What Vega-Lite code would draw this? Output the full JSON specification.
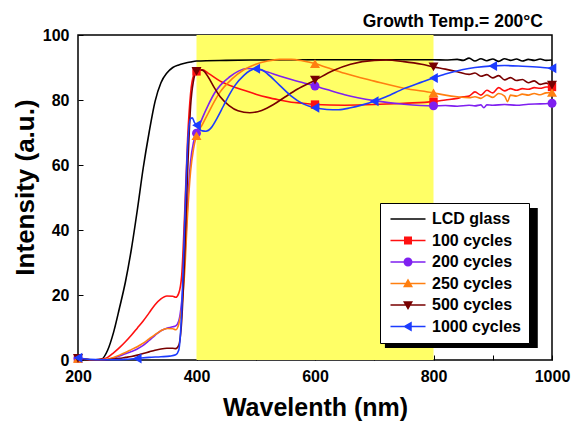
{
 "$schema": "https://vega.github.io/schema/vega-lite/v6.json",
 "width": 474, "height": 325,
 "autosize": "none",
 "padding": {"left": 78, "top": 35, "right": 24, "bottom": 64},
 "title": {"text": "Growth Temp.= 200°C", "anchor": "end", "frame": "group", "font": "Liberation Sans", "fontSize": 17.5, "fontWeight": "bold", "color": "black", "offset": -3, "dx": -9},
 "config": {
  "font": "Liberation Sans",
  "view": {"stroke": "black", "strokeWidth": 1.5},
  "axis": {"domain": false, "grid": false, "tickColor": "black", "tickSize": -5, "tickWidth": 1, "labelFontSize": 16, "labelFontWeight": "bold", "labelColor": "black", "labelFont": "Liberation Sans", "titleFont": "Liberation Sans", "titleFontSize": 25, "titleFontWeight": "bold", "titleColor": "black", "labelFlush": false, "labelOverlap": false, "format": "d"},
  "axisX": {"labelPadding": 13, "titleX": 237, "titleY": 55, "titleBaseline": "alphabetic"},
  "axisY": {"labelPadding": 14, "titleX": -45, "titleY": 152, "titleBaseline": "alphabetic", "titleAlign": "center", "titleFontSize": 26}
 },
 "datasets": {
  "curves": [
   {"series":"LCD glass","wl":200,"v":0.3},{"series":"LCD glass","wl":210,"v":0.2},{"series":"LCD glass","wl":220,"v":0.1},{"series":"LCD glass","wl":230,"v":0.1},{"series":"LCD glass","wl":240,"v":0.3},{"series":"LCD glass","wl":250,"v":3},{"series":"LCD glass","wl":260,"v":8.5},{"series":"LCD glass","wl":270,"v":16},{"series":"LCD glass","wl":280,"v":24},{"series":"LCD glass","wl":290,"v":34},{"series":"LCD glass","wl":300,"v":46},{"series":"LCD glass","wl":310,"v":59},{"series":"LCD glass","wl":320,"v":70},{"series":"LCD glass","wl":330,"v":79.5},{"series":"LCD glass","wl":340,"v":85.3},{"series":"LCD glass","wl":350,"v":88.3},{"series":"LCD glass","wl":360,"v":90},{"series":"LCD glass","wl":370,"v":90.8},{"series":"LCD glass","wl":380,"v":91.3},{"series":"LCD glass","wl":390,"v":91.7},{"series":"LCD glass","wl":400,"v":92},{"series":"LCD glass","wl":450,"v":92.2},{"series":"LCD glass","wl":500,"v":92.3},{"series":"LCD glass","wl":600,"v":92.4},{"series":"LCD glass","wl":700,"v":92.4},{"series":"LCD glass","wl":800,"v":92.4},{"series":"LCD glass","wl":820,"v":92.3},{"series":"LCD glass","wl":840,"v":92.5},{"series":"LCD glass","wl":850,"v":92.2},{"series":"LCD glass","wl":860,"v":92.9},{"series":"LCD glass","wl":870,"v":92},{"series":"LCD glass","wl":880,"v":92.7},{"series":"LCD glass","wl":890,"v":92.1},{"series":"LCD glass","wl":900,"v":92.6},{"series":"LCD glass","wl":910,"v":91.9},{"series":"LCD glass","wl":920,"v":92.7},{"series":"LCD glass","wl":930,"v":92.2},{"series":"LCD glass","wl":940,"v":92.6},{"series":"LCD glass","wl":950,"v":92},{"series":"LCD glass","wl":960,"v":92.5},{"series":"LCD glass","wl":970,"v":92.2},{"series":"LCD glass","wl":980,"v":92.6},{"series":"LCD glass","wl":990,"v":92.2},{"series":"LCD glass","wl":1000,"v":92.3},

   {"series":"100 cycles","wl":200,"v":0.5},{"series":"100 cycles","wl":210,"v":0.3},{"series":"100 cycles","wl":220,"v":0.1},{"series":"100 cycles","wl":230,"v":0.1},{"series":"100 cycles","wl":240,"v":0.2},{"series":"100 cycles","wl":250,"v":0.8},{"series":"100 cycles","wl":260,"v":2.2},{"series":"100 cycles","wl":270,"v":3.8},{"series":"100 cycles","wl":280,"v":5.6},{"series":"100 cycles","wl":290,"v":7.6},{"series":"100 cycles","wl":300,"v":9.8},{"series":"100 cycles","wl":310,"v":12},{"series":"100 cycles","wl":320,"v":14.5},{"series":"100 cycles","wl":330,"v":17},{"series":"100 cycles","wl":340,"v":18.8},{"series":"100 cycles","wl":350,"v":19.7},{"series":"100 cycles","wl":360,"v":19.6},{"series":"100 cycles","wl":365,"v":19.3},{"series":"100 cycles","wl":370,"v":20.5},{"series":"100 cycles","wl":375,"v":26},{"series":"100 cycles","wl":380,"v":45},{"series":"100 cycles","wl":385,"v":68},{"series":"100 cycles","wl":390,"v":82},{"series":"100 cycles","wl":395,"v":87.5},{"series":"100 cycles","wl":400,"v":88.8},{"series":"100 cycles","wl":410,"v":89.3},{"series":"100 cycles","wl":420,"v":88.2},{"series":"100 cycles","wl":440,"v":85.8},{"series":"100 cycles","wl":460,"v":84.2},{"series":"100 cycles","wl":480,"v":83},{"series":"100 cycles","wl":500,"v":81.8},{"series":"100 cycles","wl":520,"v":80.8},{"series":"100 cycles","wl":540,"v":80},{"series":"100 cycles","wl":560,"v":79.3},{"series":"100 cycles","wl":580,"v":79},{"series":"100 cycles","wl":600,"v":78.6},{"series":"100 cycles","wl":650,"v":78.4},{"series":"100 cycles","wl":700,"v":78.6},{"series":"100 cycles","wl":750,"v":79},{"series":"100 cycles","wl":800,"v":79.5},{"series":"100 cycles","wl":820,"v":80},{"series":"100 cycles","wl":840,"v":80.5},{"series":"100 cycles","wl":850,"v":81},{"series":"100 cycles","wl":860,"v":81.2},{"series":"100 cycles","wl":870,"v":82.5},{"series":"100 cycles","wl":880,"v":81.5},{"series":"100 cycles","wl":890,"v":83},{"series":"100 cycles","wl":900,"v":82.2},{"series":"100 cycles","wl":910,"v":83.8},{"series":"100 cycles","wl":920,"v":82.8},{"series":"100 cycles","wl":930,"v":83.5},{"series":"100 cycles","wl":940,"v":83},{"series":"100 cycles","wl":950,"v":83.5},{"series":"100 cycles","wl":960,"v":83.3},{"series":"100 cycles","wl":970,"v":83.8},{"series":"100 cycles","wl":980,"v":83.6},{"series":"100 cycles","wl":990,"v":84},{"series":"100 cycles","wl":1000,"v":84},

   {"series":"200 cycles","wl":200,"v":0.5},{"series":"200 cycles","wl":210,"v":0.3},{"series":"200 cycles","wl":220,"v":0.1},{"series":"200 cycles","wl":240,"v":0.1},{"series":"200 cycles","wl":250,"v":0.2},{"series":"200 cycles","wl":260,"v":0.6},{"series":"200 cycles","wl":270,"v":1.2},{"series":"200 cycles","wl":280,"v":1.9},{"series":"200 cycles","wl":290,"v":2.6},{"series":"200 cycles","wl":300,"v":3.4},{"series":"200 cycles","wl":310,"v":4.5},{"series":"200 cycles","wl":320,"v":6},{"series":"200 cycles","wl":330,"v":7.6},{"series":"200 cycles","wl":340,"v":9},{"series":"200 cycles","wl":350,"v":9.8},{"series":"200 cycles","wl":360,"v":10.2},{"series":"200 cycles","wl":365,"v":10.5},{"series":"200 cycles","wl":370,"v":12},{"series":"200 cycles","wl":375,"v":18},{"series":"200 cycles","wl":380,"v":30},{"series":"200 cycles","wl":385,"v":48},{"series":"200 cycles","wl":390,"v":61},{"series":"200 cycles","wl":395,"v":67},{"series":"200 cycles","wl":400,"v":69.8},{"series":"200 cycles","wl":410,"v":74.5},{"series":"200 cycles","wl":420,"v":78.5},{"series":"200 cycles","wl":430,"v":82},{"series":"200 cycles","wl":440,"v":84.5},{"series":"200 cycles","wl":455,"v":87},{"series":"200 cycles","wl":470,"v":88.8},{"series":"200 cycles","wl":485,"v":89.7},{"series":"200 cycles","wl":500,"v":89.6},{"series":"200 cycles","wl":520,"v":88.6},{"series":"200 cycles","wl":540,"v":87.4},{"series":"200 cycles","wl":560,"v":86.3},{"series":"200 cycles","wl":580,"v":85.3},{"series":"200 cycles","wl":600,"v":84.3},{"series":"200 cycles","wl":620,"v":83.2},{"series":"200 cycles","wl":650,"v":81.6},{"series":"200 cycles","wl":700,"v":79.8},{"series":"200 cycles","wl":750,"v":78.7},{"series":"200 cycles","wl":800,"v":78.2},{"series":"200 cycles","wl":820,"v":78.3},{"series":"200 cycles","wl":840,"v":78.1},{"series":"200 cycles","wl":860,"v":78.4},{"series":"200 cycles","wl":870,"v":78.2},{"series":"200 cycles","wl":880,"v":78.5},{"series":"200 cycles","wl":885,"v":77.6},{"series":"200 cycles","wl":890,"v":78.5},{"series":"200 cycles","wl":900,"v":78.4},{"series":"200 cycles","wl":920,"v":78.6},{"series":"200 cycles","wl":940,"v":78.4},{"series":"200 cycles","wl":960,"v":78.7},{"series":"200 cycles","wl":980,"v":78.8},{"series":"200 cycles","wl":1000,"v":79},

   {"series":"250 cycles","wl":200,"v":0.5},{"series":"250 cycles","wl":210,"v":0.3},{"series":"250 cycles","wl":220,"v":0.1},{"series":"250 cycles","wl":240,"v":0.1},{"series":"250 cycles","wl":250,"v":0.3},{"series":"250 cycles","wl":260,"v":0.8},{"series":"250 cycles","wl":270,"v":1.5},{"series":"250 cycles","wl":280,"v":2.3},{"series":"250 cycles","wl":290,"v":3.2},{"series":"250 cycles","wl":300,"v":4.1},{"series":"250 cycles","wl":310,"v":5.2},{"series":"250 cycles","wl":320,"v":6.5},{"series":"250 cycles","wl":330,"v":7.8},{"series":"250 cycles","wl":340,"v":9},{"series":"250 cycles","wl":350,"v":9.7},{"series":"250 cycles","wl":360,"v":9.6},{"series":"250 cycles","wl":365,"v":9.3},{"series":"250 cycles","wl":370,"v":11},{"series":"250 cycles","wl":375,"v":16},{"series":"250 cycles","wl":380,"v":27},{"series":"250 cycles","wl":385,"v":45},{"series":"250 cycles","wl":390,"v":58},{"series":"250 cycles","wl":395,"v":65},{"series":"250 cycles","wl":400,"v":69},{"series":"250 cycles","wl":410,"v":72.5},{"series":"250 cycles","wl":420,"v":76},{"series":"250 cycles","wl":430,"v":79.5},{"series":"250 cycles","wl":440,"v":82.5},{"series":"250 cycles","wl":460,"v":86.5},{"series":"250 cycles","wl":480,"v":89.3},{"series":"250 cycles","wl":500,"v":91},{"series":"250 cycles","wl":520,"v":92},{"series":"250 cycles","wl":540,"v":92.5},{"series":"250 cycles","wl":560,"v":92.5},{"series":"250 cycles","wl":580,"v":92},{"series":"250 cycles","wl":600,"v":91.2},{"series":"250 cycles","wl":620,"v":90},{"series":"250 cycles","wl":650,"v":88.2},{"series":"250 cycles","wl":700,"v":85.8},{"series":"250 cycles","wl":750,"v":83.6},{"series":"250 cycles","wl":800,"v":82.2},{"series":"250 cycles","wl":820,"v":81.5},{"series":"250 cycles","wl":840,"v":81},{"series":"250 cycles","wl":860,"v":80.7},{"series":"250 cycles","wl":870,"v":81},{"series":"250 cycles","wl":880,"v":80.5},{"series":"250 cycles","wl":890,"v":81.5},{"series":"250 cycles","wl":900,"v":80.8},{"series":"250 cycles","wl":910,"v":82},{"series":"250 cycles","wl":920,"v":81.2},{"series":"250 cycles","wl":925,"v":79.5},{"series":"250 cycles","wl":930,"v":81.5},{"series":"250 cycles","wl":940,"v":81.2},{"series":"250 cycles","wl":950,"v":81.8},{"series":"250 cycles","wl":960,"v":81.5},{"series":"250 cycles","wl":970,"v":82},{"series":"250 cycles","wl":980,"v":81.6},{"series":"250 cycles","wl":990,"v":82.2},{"series":"250 cycles","wl":1000,"v":82.3},

   {"series":"500 cycles","wl":200,"v":0.5},{"series":"500 cycles","wl":220,"v":0.1},{"series":"500 cycles","wl":240,"v":0.1},{"series":"500 cycles","wl":250,"v":0.1},{"series":"500 cycles","wl":260,"v":0.3},{"series":"500 cycles","wl":270,"v":0.5},{"series":"500 cycles","wl":280,"v":0.8},{"series":"500 cycles","wl":290,"v":1.1},{"series":"500 cycles","wl":300,"v":1.5},{"series":"500 cycles","wl":310,"v":2},{"series":"500 cycles","wl":320,"v":2.5},{"series":"500 cycles","wl":330,"v":3},{"series":"500 cycles","wl":340,"v":3.4},{"series":"500 cycles","wl":350,"v":3.6},{"series":"500 cycles","wl":360,"v":3.6},{"series":"500 cycles","wl":365,"v":3.5},{"series":"500 cycles","wl":370,"v":4.5},{"series":"500 cycles","wl":375,"v":12},{"series":"500 cycles","wl":380,"v":32},{"series":"500 cycles","wl":385,"v":58},{"series":"500 cycles","wl":390,"v":78},{"series":"500 cycles","wl":395,"v":86},{"series":"500 cycles","wl":400,"v":88.8},{"series":"500 cycles","wl":405,"v":89.3},{"series":"500 cycles","wl":410,"v":89.2},{"series":"500 cycles","wl":420,"v":87},{"series":"500 cycles","wl":430,"v":83.8},{"series":"500 cycles","wl":440,"v":81},{"series":"500 cycles","wl":455,"v":78.3},{"series":"500 cycles","wl":470,"v":76.7},{"series":"500 cycles","wl":490,"v":76.1},{"series":"500 cycles","wl":510,"v":76.8},{"series":"500 cycles","wl":530,"v":78.6},{"series":"500 cycles","wl":550,"v":81},{"series":"500 cycles","wl":570,"v":83.3},{"series":"500 cycles","wl":600,"v":86.1},{"series":"500 cycles","wl":630,"v":89},{"series":"500 cycles","wl":660,"v":91},{"series":"500 cycles","wl":700,"v":92.2},{"series":"500 cycles","wl":720,"v":92.3},{"series":"500 cycles","wl":750,"v":91.8},{"series":"500 cycles","wl":780,"v":91},{"series":"500 cycles","wl":800,"v":90.2},{"series":"500 cycles","wl":820,"v":89.5},{"series":"500 cycles","wl":840,"v":88.7},{"series":"500 cycles","wl":860,"v":87.9},{"series":"500 cycles","wl":870,"v":88.3},{"series":"500 cycles","wl":880,"v":87.3},{"series":"500 cycles","wl":890,"v":87.8},{"series":"500 cycles","wl":900,"v":86.8},{"series":"500 cycles","wl":910,"v":87.5},{"series":"500 cycles","wl":920,"v":86.2},{"series":"500 cycles","wl":930,"v":86.9},{"series":"500 cycles","wl":940,"v":86},{"series":"500 cycles","wl":950,"v":86.3},{"series":"500 cycles","wl":960,"v":85.3},{"series":"500 cycles","wl":970,"v":85.9},{"series":"500 cycles","wl":980,"v":84.8},{"series":"500 cycles","wl":990,"v":85.2},{"series":"500 cycles","wl":1000,"v":84.6},

   {"series":"1000 cycles","wl":200,"v":0.7},{"series":"1000 cycles","wl":210,"v":0.4},{"series":"1000 cycles","wl":220,"v":0.2},{"series":"1000 cycles","wl":240,"v":0.1},{"series":"1000 cycles","wl":260,"v":0.1},{"series":"1000 cycles","wl":280,"v":0.2},{"series":"1000 cycles","wl":300,"v":0.5},{"series":"1000 cycles","wl":320,"v":0.8},{"series":"1000 cycles","wl":340,"v":1},{"series":"1000 cycles","wl":355,"v":1.2},{"series":"1000 cycles","wl":365,"v":1.6},{"series":"1000 cycles","wl":370,"v":3},{"series":"1000 cycles","wl":375,"v":15},{"series":"1000 cycles","wl":380,"v":42},{"series":"1000 cycles","wl":385,"v":66},{"series":"1000 cycles","wl":390,"v":74.3},{"series":"1000 cycles","wl":393,"v":74.5},{"series":"1000 cycles","wl":396,"v":73.3},{"series":"1000 cycles","wl":400,"v":72.2},{"series":"1000 cycles","wl":405,"v":71},{"series":"1000 cycles","wl":410,"v":70.5},{"series":"1000 cycles","wl":416,"v":70.4},{"series":"1000 cycles","wl":425,"v":71.5},{"series":"1000 cycles","wl":435,"v":74.5},{"series":"1000 cycles","wl":445,"v":78},{"series":"1000 cycles","wl":455,"v":81.5},{"series":"1000 cycles","wl":465,"v":84.5},{"series":"1000 cycles","wl":480,"v":87.6},{"series":"1000 cycles","wl":490,"v":89},{"series":"1000 cycles","wl":500,"v":89.6},{"series":"1000 cycles","wl":510,"v":89.3},{"series":"1000 cycles","wl":520,"v":88},{"series":"1000 cycles","wl":540,"v":84.6},{"series":"1000 cycles","wl":560,"v":81.2},{"series":"1000 cycles","wl":580,"v":78.8},{"series":"1000 cycles","wl":600,"v":77.6},{"series":"1000 cycles","wl":620,"v":77.1},{"series":"1000 cycles","wl":640,"v":77},{"series":"1000 cycles","wl":660,"v":77.6},{"series":"1000 cycles","wl":680,"v":78.5},{"series":"1000 cycles","wl":700,"v":79.6},{"series":"1000 cycles","wl":720,"v":81},{"series":"1000 cycles","wl":750,"v":83.5},{"series":"1000 cycles","wl":780,"v":85.5},{"series":"1000 cycles","wl":800,"v":86.8},{"series":"1000 cycles","wl":820,"v":88},{"series":"1000 cycles","wl":850,"v":89.4},{"series":"1000 cycles","wl":870,"v":90},{"series":"1000 cycles","wl":900,"v":90.5},{"series":"1000 cycles","wl":920,"v":90.6},{"series":"1000 cycles","wl":950,"v":90.4},{"series":"1000 cycles","wl":980,"v":90.1},{"series":"1000 cycles","wl":1000,"v":89.8}
  ],
  "markers": [
   {"series":"100 cycles","wl":200,"v":0.5},{"series":"100 cycles","wl":400,"v":88.8},{"series":"100 cycles","wl":600,"v":78.6},{"series":"100 cycles","wl":800,"v":79.5},{"series":"100 cycles","wl":1000,"v":84},
   {"series":"200 cycles","wl":200,"v":0.5},{"series":"200 cycles","wl":400,"v":69.8},{"series":"200 cycles","wl":600,"v":84.3},{"series":"200 cycles","wl":800,"v":78.2},{"series":"200 cycles","wl":1000,"v":79},
   {"series":"250 cycles","wl":200,"v":0.5},{"series":"250 cycles","wl":400,"v":69},{"series":"250 cycles","wl":600,"v":91.2},{"series":"250 cycles","wl":800,"v":82.2},{"series":"250 cycles","wl":1000,"v":82.3},
   {"series":"500 cycles","wl":200,"v":0.5},{"series":"500 cycles","wl":400,"v":88.8},{"series":"500 cycles","wl":600,"v":86.1},{"series":"500 cycles","wl":800,"v":90.2},{"series":"500 cycles","wl":1000,"v":84.6},
   {"series":"1000 cycles","wl":200,"v":0.7},{"series":"1000 cycles","wl":300,"v":0.5},{"series":"1000 cycles","wl":400,"v":72.2},{"series":"1000 cycles","wl":500,"v":89.6},{"series":"1000 cycles","wl":600,"v":77.6},{"series":"1000 cycles","wl":700,"v":79.6},{"series":"1000 cycles","wl":800,"v":86.8},{"series":"1000 cycles","wl":900,"v":90.5},{"series":"1000 cycles","wl":1000,"v":89.8}
  ]
 },
 "layer": [
  {
   "data": {"values": [{}]},
   "mark": {"type": "rect", "color": "#ffff66"},
   "encoding": {
    "x": {"datum": 400, "type": "quantitative", "scale": {"domain": [200, 1000], "nice": false}},
    "x2": {"datum": 800}
   }
  },
  {
   "data": {"name": "curves"},
   "mark": {"type": "line", "strokeWidth": 1.6, "interpolate": "monotone"},
   "encoding": {
    "x": {"field": "wl", "type": "quantitative", "title": "Wavelenth (nm)", "scale": {"domain": [200, 1000], "nice": false},
          "axis": {"values": [200,300,400,500,600,700,800,900,1000], "labelExpr": "datum.value % 200 === 0 ? datum.label : ''"}},
    "y": {"field": "v", "type": "quantitative", "title": "Intensity (a.u.)", "scale": {"domain": [0, 100], "nice": false},
          "axis": {"values": [0,10,20,30,40,50,60,70,80,90,100], "labelExpr": "datum.value % 20 === 0 ? datum.label : ''"}},
    "stroke": {"field": "series", "type": "nominal", "legend": null,
              "scale": {"range": ["#ff1010","#1c3cff","#7f20f0","#ff7f10","#780000","#000000"]}},
    "detail": {"field": "series"}
   }
  },
  {
   "data": {"name": "markers"},
   "mark": {"type": "point", "filled": true, "opacity": 1, "strokeWidth": 0},
   "encoding": {
    "x": {"field": "wl", "type": "quantitative", "title": "Wavelenth (nm)"},
    "y": {"field": "v", "type": "quantitative", "title": "Intensity (a.u.)"},
    "fill": {"field": "series", "type": "nominal", "legend": null,
             "scale": {"range": ["#ff1010","#1c3cff","#7f20f0","#ff7f10","#780000"]}},
    "size": {"condition": [
      {"test": "datum.series === '100 cycles'", "value": 70},
      {"test": "datum.series === '200 cycles'", "value": 80}
     ], "value": 100},
    "shape": {"condition": [
      {"test": "datum.series === '100 cycles'", "value": "square"},
      {"test": "datum.series === '200 cycles'", "value": "circle"},
      {"test": "datum.series === '250 cycles'", "value": "triangle-up"},
      {"test": "datum.series === '500 cycles'", "value": "triangle-down"}
     ], "value": "triangle-left"}
   }
  },
  {
   "data": {"values": [{}]},
   "mark": {"type": "rect", "color": "black"},
   "encoding": {
    "x": {"datum": 718, "type": "quantitative"},
    "x2": {"datum": 976},
    "y": {"datum": 46.8, "type": "quantitative"},
    "y2": {"datum": 3.7}
   }
  },
  {
   "data": {"name": "curves"},
   "transform": [{"aggregate": [{"op": "max", "field": "v", "as": "v"}, {"op": "max", "field": "wl", "as": "wl"}], "groupby": ["series"]}],
   "mark": {"type": "point", "filled": true, "opacity": 0},
   "encoding": {
    "x": {"field": "wl", "type": "quantitative", "title": "Wavelenth (nm)"},
    "y": {"field": "v", "type": "quantitative", "title": "Intensity (a.u.)"},
    "color": {"field": "series", "type": "nominal",
              "scale": {"domain": ["LCD glass","100 cycles","200 cycles","250 cycles","500 cycles","1000 cycles"], "range": ["#000000","#ff1010","#7f20f0","#ff7f10","#780000","#1c3cff"]},
              "legend": {"title": null, "orient": "none", "legendX": 302, "legendY": 168, "padding": 8, "rowPadding": 5.5, "symbolOffset": 12, "labelOffset": 16, "symbolSize": 100, "symbolStrokeWidth": 0, "symbolOpacity": 1, "labelFontSize": 16, "labelFontWeight": "bold", "labelColor": "black", "labelFont": "Liberation Sans", "strokeColor": "black", "fillColor": "white", "labelLimit": 300}},
    "shape": {"field": "series", "type": "nominal",
              "scale": {"domain": ["LCD glass","100 cycles","200 cycles","250 cycles","500 cycles","1000 cycles"],
                        "range": [
                         "M-3.5,-0.15H3.5V0.15H-3.5Z",
                         "M-3.5,-0.15H3.5V0.15H-3.5Z M-0.8,-0.8H0.8V0.8H-0.8Z",
                         "M-3.5,-0.15H3.5V0.15H-3.5Z M-0.9,0A0.9,0.9,0,1,1,0.9,0A0.9,0.9,0,1,1,-0.9,0Z",
                         "M-3.5,-0.15H3.5V0.15H-3.5Z M0,-1L1,0.75H-1Z",
                         "M-3.5,-0.15H3.5V0.15H-3.5Z M0,1L-1,-0.75H1Z",
                         "M-3.5,-0.15H3.5V0.15H-3.5Z M-1,0L0.75,-1V1Z"
                        ]},
              "legend": {"title": null, "orient": "none", "legendX": 302, "legendY": 168, "padding": 8, "rowPadding": 5.5, "symbolOffset": 12, "labelOffset": 16, "symbolSize": 100, "symbolStrokeWidth": 0, "symbolOpacity": 1, "labelFontSize": 16, "labelFontWeight": "bold", "labelColor": "black", "labelFont": "Liberation Sans", "strokeColor": "black", "fillColor": "white", "labelLimit": 300}}
   }
  }
 ]
}
